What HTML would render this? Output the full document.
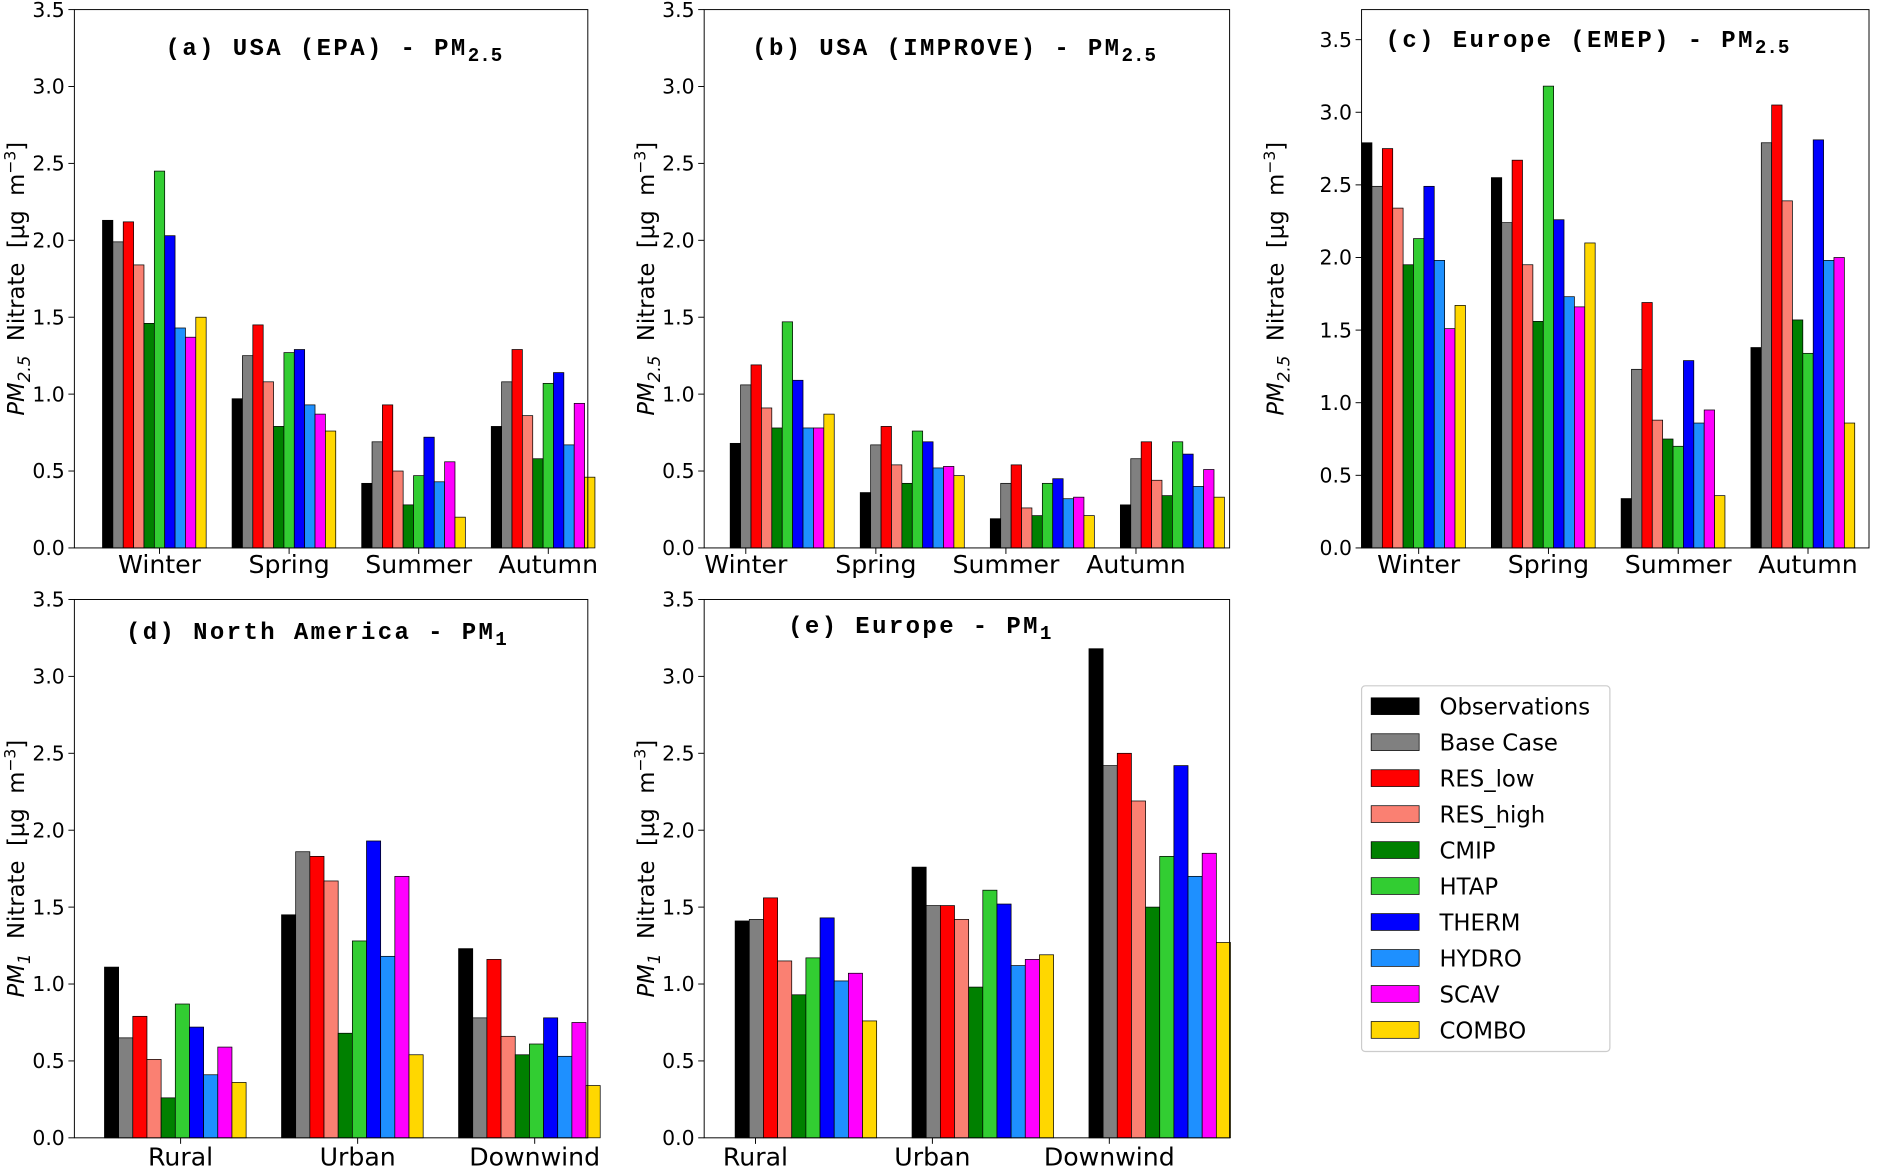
<!DOCTYPE html>
<html><head><meta charset="utf-8">
<style>
html,body{margin:0;padding:0;background:#fff;}
svg{display:block;}
text{font-family:"DejaVu Sans","Liberation Sans",sans-serif;fill:#000;}
.title{font-family:"Liberation Mono",monospace;font-weight:bold;font-size:20px;letter-spacing:2px;}
.tick{font-size:17px;}
.cat{font-size:21px;}
.ylab{font-size:19px;}
.leg{font-size:19px;}
</style></head>
<body>
<svg id="chart" width="1881" height="1169" viewBox="0 0 1568 975" preserveAspectRatio="none" xmlns="http://www.w3.org/2000/svg"></svg>
<script>
const seriesNames = ["Observations","Base Case","RES_low","RES_high","CMIP","HTAP","THERM","HYDRO","SCAV","COMBO"];
const seriesColors = ["#000000","#808080","#ff0000","#fa8072","#008000","#32cd32","#0000ff","#1e90ff","#ff00ff","#ffd700"];
const seasons = ["Winter","Spring","Summer","Autumn"];
const sites = ["Rural","Urban","Downwind"];
const valuesA = [[2.13,1.99,2.12,1.84,1.46,2.45,2.03,1.43,1.37,1.50],[0.97,1.25,1.45,1.08,0.79,1.27,1.29,0.93,0.87,0.76],[0.42,0.69,0.93,0.50,0.28,0.47,0.72,0.43,0.56,0.20],[0.79,1.08,1.29,0.86,0.58,1.07,1.14,0.67,0.94,0.46]];
const valuesB = [[0.68,1.06,1.19,0.91,0.78,1.47,1.09,0.78,0.78,0.87],[0.36,0.67,0.79,0.54,0.42,0.76,0.69,0.52,0.53,0.47],[0.19,0.42,0.54,0.26,0.21,0.42,0.45,0.32,0.33,0.21],[0.28,0.58,0.69,0.44,0.34,0.69,0.61,0.40,0.51,0.33]];
const valuesC = [[2.79,2.49,2.75,2.34,1.95,2.13,2.49,1.98,1.51,1.67],[2.55,2.24,2.67,1.95,1.56,3.18,2.26,1.73,1.66,2.10],[0.34,1.23,1.69,0.88,0.75,0.70,1.29,0.86,0.95,0.36],[1.38,2.79,3.05,2.39,1.57,1.34,2.81,1.98,2.00,0.86]];
const valuesD = [[1.11,0.65,0.79,0.51,0.26,0.87,0.72,0.41,0.59,0.36],[1.45,1.86,1.83,1.67,0.68,1.28,1.93,1.18,1.70,0.54],[1.23,0.78,1.16,0.66,0.54,0.61,0.78,0.53,0.75,0.34]];
const valuesE = [[1.41,1.42,1.56,1.15,0.93,1.17,1.43,1.02,1.07,0.76],[1.76,1.51,1.51,1.42,0.98,1.61,1.52,1.12,1.16,1.19],[3.18,2.42,2.50,2.19,1.50,1.83,2.42,1.70,1.85,1.27]];
const yTicks = [0,0.5,1.0,1.5,2.0,2.5,3.0,3.5];

const NS="http://www.w3.org/2000/svg";
const svg=document.getElementById('chart');
function el(tag,attrs,parent){const e=document.createElementNS(NS,tag);for(const k in attrs)e.setAttribute(k,attrs[k]);(parent||svg).appendChild(e);return e;}

const panels=[
 {id:"a",vals:valuesA,cats:seasons,L:62,R:490,T:8,B:457,ymax:3.5,x0:-0.657,x1:3.305,off:-0.44,title:"(a) USA (EPA) - PM",sub:"2.5",tx:138,ty:46,yl:"2.5",ylx:20,catY:478},
 {id:"b",vals:valuesB,cats:seasons,L:587,R:1025,T:8,B:457,ymax:3.5,x0:-0.32,x1:3.72,off:-0.12,title:"(b) USA (IMPROVE) - PM",sub:"2.5",tx:627,ty:46,yl:"2.5",ylx:545,catY:478},
 {id:"c",vals:valuesC,cats:seasons,L:1135,R:1558,T:8,B:457,ymax:3.707,x0:-0.44,x1:3.47,off:-0.44,title:"(c) Europe (EMEP) - PM",sub:"2.5",tx:1155,ty:39,yl:"2.5",ylx:1070,catY:478},
 {id:"d",vals:valuesD,cats:sites,L:62,R:490,T:500,B:949,ymax:3.5,x0:-0.6,x1:2.3,off:-0.43,title:"(d) North America - PM",sub:"1",tx:105,ty:533,yl:"1",ylx:20,catY:972},
 {id:"e",vals:valuesE,cats:sites,L:587,R:1025,T:500,B:949,ymax:3.5,x0:-0.29,x1:2.68,off:-0.115,title:"(e) Europe - PM",sub:"1",tx:657,ty:528,yl:"1",ylx:545,catY:972}
];

panels.forEach(p=>{
  const g=el('g',{});
  
  
  const xs=v=>p.L+(v-p.x0)/(p.x1-p.x0)*(p.R-p.L);
  const ys=v=>p.B-v/p.ymax*(p.B-p.T);
  p.vals.forEach((grp,i)=>{
    grp.forEach((v,j)=>{
      const x=xs(i+p.off+0.08*j), w=xs(i+p.off+0.08*(j+1))-x;
      const r=el('rect',{x:x,y:ys(v),width:w,height:ys(0)-ys(v),fill:seriesColors[j],stroke:'#000','stroke-width':0.6},g);
      
      
    });
    const t=el('text',{x:xs(i),y:p.catY,'text-anchor':'middle',class:'cat'},g);
    t.textContent=p.cats[i];
    
    
  });
  const f=el('rect',{x:p.L,y:p.T,width:p.R-p.L,height:p.B-p.T,fill:'none',stroke:'#000','stroke-width':0.8},g);
  
  
  yTicks.forEach(v=>{
    el('line',{x1:p.L-5,x2:p.L,y1:ys(v),y2:ys(v),stroke:'#000','stroke-width':0.8},g);
    const t=el('text',{x:p.L-8,y:ys(v)+6,'text-anchor':'end',class:'tick'},g);
    t.textContent=v.toFixed(1);
    
    
  });
  p.vals.forEach((grp,i)=>{el('line',{x1:xs(i),x2:xs(i),y1:p.B,y2:p.B+5,stroke:'#000','stroke-width':0.8},g);});
  const tt=el('text',{x:p.tx,y:p.ty,class:'title'},g);
  
  
  tt.appendChild(document.createTextNode(p.title));
  const ts=el('tspan',{dy:5,'font-size':16,'letter-spacing':0},tt); ts.textContent=p.sub;
  const cy=(p.T+p.B)/2;
  const yl=el('text',{transform:`translate(${p.ylx},${cy}) rotate(-90)`,'text-anchor':'middle',class:'ylab'},g);
  
  
  const s1=el('tspan',{'font-style':'italic'},yl); s1.textContent='PM';
  const s2=el('tspan',{dy:5,'font-size':14,'font-style':'italic'},yl); s2.textContent=p.yl;
  const s3=el('tspan',{dy:-5},yl); s3.textContent='\u00a0\u00a0Nitrate\u00a0\u00a0[μg\u00a0\u00a0m';
  const s4=el('tspan',{dy:-7,'font-size':13},yl); s4.textContent='−3';
  const s5=el('tspan',{dy:7},yl); s5.textContent=']';
});

const lg=el('g',{});


el('rect',{x:1135,y:572,width:207,height:305,fill:'#fff',stroke:'#ccc','stroke-width':1,rx:3},lg);
seriesNames.forEach((n,j)=>{
  const y=582+j*30;
  const r=el('rect',{x:1143,y:y,width:40,height:14,fill:seriesColors[j],stroke:'#000','stroke-width':0.6},lg);
  
  
  const t=el('text',{x:1200,y:y+14,class:'leg'},lg);
  t.textContent=n;
  
  
});
</script>
</body></html>
